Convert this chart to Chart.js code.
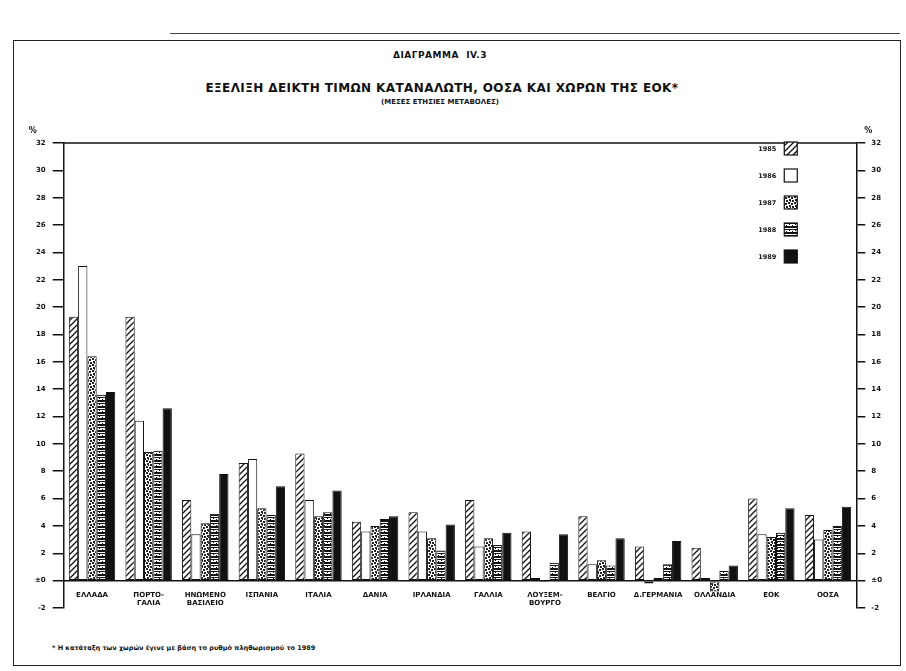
<!DOCTYPE html>
<html>
<head>
<meta charset="utf-8">
<script src="https://cdn.jsdelivr.net/npm/chart.js@4/dist/chart.umd.min.js"></script>
<style>
  html, body { margin: 0; padding: 0; background: #fff; }
  body { width: 906px; height: 671px; position: relative; overflow: hidden; font-family: "DejaVu Sans", sans-serif; color: #111; }
  .frame { position: absolute; left: 13px; top: 40px; width: 886px; height: 624px; border: 1.5px solid #222; }
  .topline { position: absolute; left: 170px; top: 33px; width: 730px; height: 0; border-top: 1px solid #444; }
  .t1 { position: absolute; left: 0; width: 880px; top: 50px; text-align: center; font-size: 9px; font-weight: bold; letter-spacing: 0.5px; }
  .t2 { position: absolute; left: 0; width: 884px; top: 81px; text-align: center; font-size: 12px; font-weight: bold; letter-spacing: 0.4px; }
  .t3 { position: absolute; left: 0; width: 880px; top: 98px; text-align: center; font-size: 7px; font-weight: bold; }
  .note { position: absolute; left: 52px; top: 644px; font-size: 6.5px; font-weight: bold; }
  .chartbox { position: absolute; left: 14px; top: 112px; width: 884px; height: 510px; }
</style>
</head>
<body>
<div class="topline"></div>
<div class="frame"></div>
<div class="t1">ΔΙΑΓΡΑΜΜΑ &nbsp;IV.3</div>
<div class="t2">ΕΞΕΛΙΞΗ ΔΕΙΚΤΗ ΤΙΜΩΝ ΚΑΤΑΝΑΛΩΤΗ, ΟΟΣΑ ΚΑΙ ΧΩΡΩΝ ΤΗΣ ΕΟΚ*</div>
<div class="t3">(ΜΕΣΕΣ ΕΤΗΣΙΕΣ ΜΕΤΑΒΟΛΕΣ)</div>
<div class="chartbox"><canvas id="cpiChart"></canvas></div>
<div class="note">* Η κατάταξη των χωρών έγινε με βάση το ρυθμό πληθωρισμού το 1989</div>

<script>
// Consumer price index, average yearly change (%), 1985-1989

const categories = [
  'ΕΛΛΑΔΑ', ['ΠΟΡΤΟ-', 'ΓΑΛΙΑ'], ['ΗΝΩΜΕΝΟ', 'ΒΑΣΙΛΕΙΟ'], 'ΙΣΠΑΝΙΑ', 'ΙΤΑΛΙΑ',
  'ΔΑΝΙΑ', 'ΙΡΛΑΝΔΙΑ', 'ΓΑΛΛΙΑ', ['ΛΟΥΞΕΜ-', 'ΒΟΥΡΓΟ'], 'ΒΕΛΓΙΟ',
  'Δ.ΓΕΡΜΑΝΙΑ', 'ΟΛΛΑΝΔΙΑ', 'ΕΟΚ', 'ΟΟΣΑ'
];
const years = ['1985', '1986', '1987', '1988', '1989'];

const values1985 = [19.3, 19.3, 5.9, 8.6, 9.3, 4.3, 5.0, 5.9, 3.6, 4.7, 2.5, 2.4, 6.0, 4.8];
const values1986 = [23.0, 11.7, 3.4, 8.9, 5.9, 3.6, 3.6, 2.5, 0.2, 1.2, -0.2, 0.2, 3.4, 3.0];
const values1987 = [16.4, 9.4, 4.2, 5.3, 4.7, 4.0, 3.1, 3.1, -0.1, 1.5, 0.2, -0.8, 3.2, 3.7];
const values1988 = [13.6, 9.5, 4.9, 4.8, 5.0, 4.5, 2.2, 2.6, 1.3, 1.1, 1.2, 0.7, 3.5, 4.0];
const values1989 = [13.8, 12.6, 7.8, 6.9, 6.6, 4.7, 4.1, 3.5, 3.4, 3.1, 2.9, 1.1, 5.3, 5.4];

const yTicks = [-2, 0, 2, 4, 6, 8, 10, 12, 14, 16, 18, 20, 22, 24, 26, 28, 30, 32];

// -------------------
// fill patterns (scanned print look)
// -------------------
function makePattern(kind) {
  const c = document.createElement('canvas');
  c.width = 6; c.height = 6;
  const g = c.getContext('2d');
  g.fillStyle = '#fff';
  g.fillRect(0, 0, 6, 6);
  g.fillStyle = '#111';
  g.strokeStyle = '#111';
  if (kind === 'hatch') {
    g.lineWidth = 1.3;
    g.beginPath();
    g.moveTo(0, 6); g.lineTo(6, 0);
    g.moveTo(-3, 3); g.lineTo(3, -3);
    g.moveTo(3, 9); g.lineTo(9, 3);
    g.stroke();
  } else if (kind === 'dots') {
    g.fillStyle = '#222';
    g.fillRect(0, 0, 2, 2); g.fillRect(3, 1, 2, 2);
    g.fillRect(1, 3, 2, 2); g.fillRect(4, 4, 2, 2);
    g.fillRect(2, 5, 1, 1);
  } else if (kind === 'stripes') {
    g.fillRect(0, 0, 6, 2);
    g.fillRect(0, 3, 6, 1);
    g.fillRect(1, 4, 1, 1); g.fillRect(4, 5, 1, 1);
  } else if (kind === 'solid') {
    g.fillRect(0, 0, 6, 6);
  }
  return g.createPattern(c, 'repeat');
}

const fills = [makePattern('hatch'), '#ffffff', makePattern('dots'), makePattern('stripes'), '#111111'];
const seriesValues = [values1985, values1986, values1987, values1988, values1989];

// legend, axis % marks and top frame line
const extrasPlugin = {
  id: 'extras',
  afterDraw(chart) {
    const ctx = chart.ctx;
    const area = chart.chartArea;
    ctx.save();
    ctx.strokeStyle = '#111';
    ctx.lineWidth = 1.5;
    ctx.beginPath();
    ctx.moveTo(area.left, area.top);
    ctx.lineTo(area.right, area.top);
    ctx.stroke();

    ctx.fillStyle = '#111';
    ctx.font = 'bold 8px "DejaVu Sans"';
    ctx.textAlign = 'center';
    ctx.fillText('%', area.left - 31, area.top - 10);
    ctx.fillText('%', area.right + 12, area.top - 10);

    // legend
    ctx.font = 'bold 6.5px "DejaVu Sans"';
    ctx.textAlign = 'right';
    ctx.textBaseline = 'middle';
    years.forEach((yr, i) => {
      const y = area.top + 6 + i * 27;
      const bx = area.right - 72;
      ctx.fillStyle = '#111';
      ctx.fillText(yr, bx - 8, y);
      ctx.fillStyle = fills[i];
      ctx.fillRect(bx, y - 7, 13, 13);
      ctx.lineWidth = 1.2;
      ctx.strokeRect(bx, y - 7, 13, 13);
    });
    ctx.restore();
  }
};

document.addEventListener('DOMContentLoaded', function () {
  const canvas = document.getElementById('cpiChart');

  const datasets = years.map((yr, i) => ({
    label: yr,
    data: seriesValues[i],
    backgroundColor: fills[i],
    borderColor: '#111',
    borderWidth: 1,
    borderSkipped: false,
    categoryPercentage: 0.82,
    barPercentage: 1.0
  }));

  const tickFont = { family: 'DejaVu Sans', size: 7, weight: 'bold' };

  new Chart(canvas, {
    type: 'bar',
    data: { labels: categories, datasets: datasets },
    plugins: [extrasPlugin],
    options: {
      responsive: true,
      maintainAspectRatio: false,
      animation: false,
      layout: { padding: { top: 31, bottom: 14, left: 14, right: 10 } },
      plugins: {
        legend: { display: false },
        tooltip: { enabled: false }
      },
      scales: {
        x: {
          position: { y: 0 },
          offset: true,
          grid: { display: false, drawTicks: false },
          border: { display: true, color: '#111', width: 1.5 },
          ticks: { color: '#111', font: tickFont, padding: 10, maxRotation: 0, autoSkip: false }
        },
        y: {
          min: -2,
          max: 32,
          afterBuildTicks(axis) { axis.ticks = yTicks.map(v => ({ value: v })); },
          grid: { drawOnChartArea: false, tickLength: 11, color: '#111', lineWidth: 1.5 },
          border: { color: '#111', width: 1.5 },
          ticks: {
            color: '#111', font: tickFont, padding: 7,
            callback: v => (v === 0 ? '±0' : String(v))
          }
        },
        y2: {
          position: 'right',
          min: -2,
          max: 32,
          afterBuildTicks(axis) { axis.ticks = yTicks.map(v => ({ value: v })); },
          grid: { drawOnChartArea: false, tickLength: 9, color: '#111', lineWidth: 1.5 },
          border: { color: '#111', width: 1.5 },
          ticks: {
            color: '#111', font: tickFont, padding: 6,
            callback: v => (v === 0 ? '±0' : String(v))
          }
        }
      }
    }
  });
});
</script>
</body>
</html>
